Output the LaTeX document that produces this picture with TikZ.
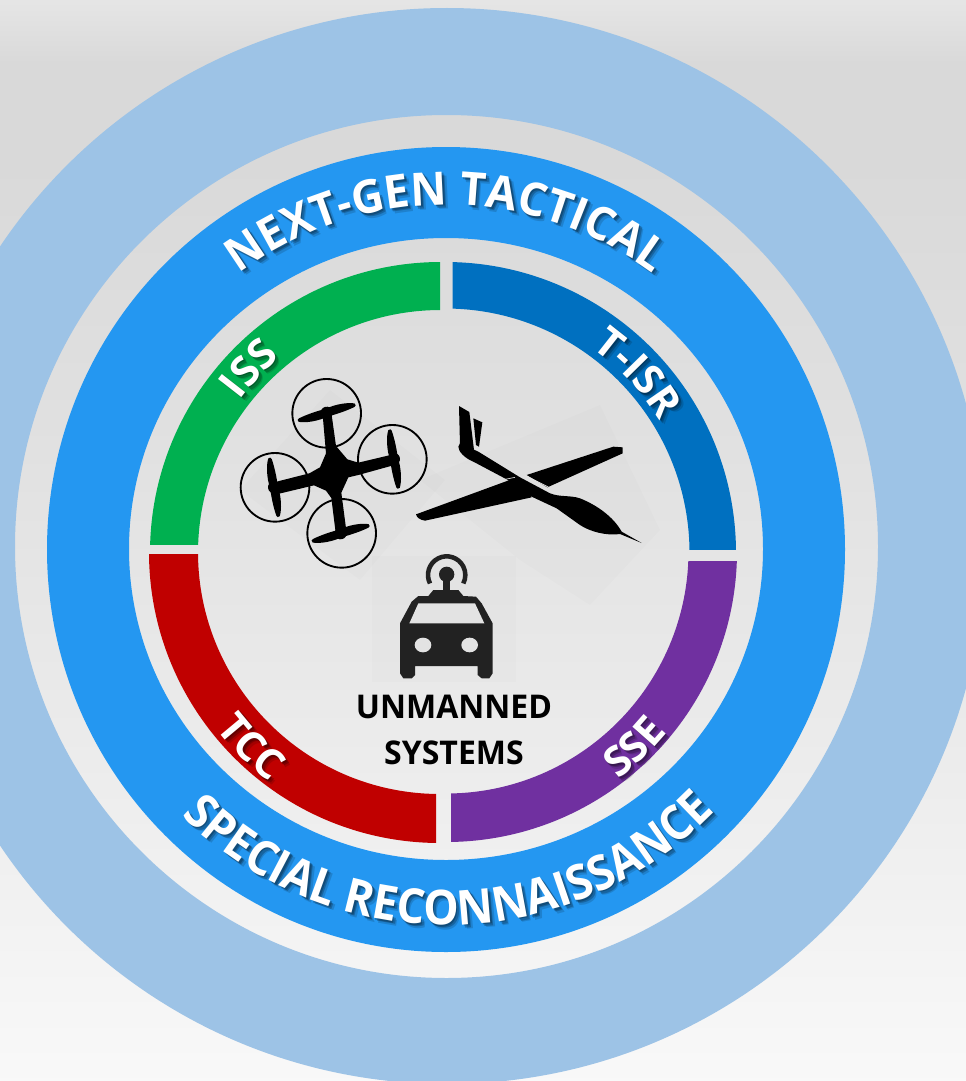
\documentclass[tikz,border=0pt]{standalone}
\usepackage{fontspec}
\setmainfont{Open Sans}
\newfontfamily\topfont[FakeStretch=.965]{Open Sans}
\newfontfamily\botfont[FakeStretch=.93]{Open Sans}
\newfontfamily\midfont[FakeStretch=.98]{Open Sans}
\usetikzlibrary{decorations.text}
\definecolor{ringlight}{HTML}{9DC3E6}
\definecolor{ringblue}{HTML}{2497F1}
\definecolor{secgreen}{HTML}{00B050}
\definecolor{secblue}{HTML}{0070C0}
\definecolor{secred}{HTML}{C00000}
\definecolor{secpurple}{HTML}{7030A0}
\definecolor{carink}{HTML}{222222}
\definecolor{bgmid}{HTML}{E3E3E3}
\pgfdeclareverticalshading{pagebg}{100bp}{
 color(0bp)=(white!97.5!black);
 color(25bp)=(white!97.5!black);
 color(40bp)=(white!92.5!black);
 color(55bp)=(white!88!black);
 color(68bp)=(white!85!black);
 color(72bp)=(white!85!black);
 color(75bp)=(white!90!black);
 color(100bp)=(white!90!black)}
\tikzset{
 blade/.style={fill=black},
 ghost/.style={fill=black,opacity=.012},
 wing/.style={fill=black},
 guard/.style={draw=black,line width=1.4pt,fill=none}
}
% cx cy r start end font-setup text
\newcommand{\arclabel}[7]{%
 \foreach \dx/\dy/\op in {4.5/4.5/.14,3/3/.22,1.5/1.5/.24}{%
  \begin{scope}[opacity=\op,shift={(\dx,-\dy)}]
  \path[decorate,decoration={text along path,text align=center,
    text={|#6\color{black}|#7}}]
    (#1,-#2)++(#4:#3) arc[start angle=#4,end angle=#5,radius=#3];
  \end{scope}}
 \path[decorate,decoration={text along path,text align=center,
    text={|#6\color{white}|#7}}]
    (#1,-#2)++(#4:#3) arc[start angle=#4,end angle=#5,radius=#3];
}
% clip rectangle x0 y0 x1 y1, centre cx cy, outer, inner, colour
\newcommand{\sector}[9]{%
 \begin{scope}
  \clip (#1,-#2) rectangle (#3,-#4);
  \fill[#9,even odd rule] (#5,-#6) circle[radius=#7] (#5,-#6) circle[radius=#8];
 \end{scope}}
\newcommand{\rotor}[3]{% zoomed px, x y angle
 \begin{scope}[shift={(#1,#2)},rotate=#3]
  \fill[blade] (0,-12) .. controls (30,-18) and (70,-14) .. (88,-5) .. controls (92,0) and (90,4) .. (85,5) .. controls (60,10) and (30,12) .. (0,12)
   .. controls (-30,18) and (-70,14) .. (-88,5) .. controls (-92,0) and (-90,-4) .. (-85,-5) .. controls (-60,-10) and (-30,-12) .. (0,-12) -- cycle;
  \fill[blade] (0,0) circle[radius=18];
 \end{scope}}
\begin{document}
\begin{tikzpicture}[x=.75pt,y=.75pt]
\useasboundingbox (0,0) rectangle (966,-1081);
\clip (0,0) rectangle (966,-1081);
\shade[shading=pagebg] (0,0) rectangle (966,-1081);
% rings
\fill[ringlight,even odd rule] (447,-546) circle[radius=538] (446.5,-546.5) circle[radius=431.5];
\fill[ringblue,even odd rule] (446,-549.5) ellipse[x radius=399,y radius=402.5] (446,-549) ellipse[x radius=317,y radius=311];
% faint image panels
\fill[ghost] (372,-556) rectangle (516,-682);
\fill[ghost] (240,-490) -- (360,-580) -- (445,-480) -- (330,-390) -- cycle;
\fill[ghost] (420,-480) -- (600,-405) -- (660,-530) -- (590,-605) -- (520,-560) -- cycle;
% sectors
\sector{100}{200}{440}{544}{441}{553}{291}{243}{secgreen}
\sector{452.5}{200}{800}{549}{445}{553}{291}{244.5}{secblue}
\sector{100}{554}{436}{900}{440}{552}{291}{242}{secred}
\sector{451}{561}{800}{900}{446}{551}{291}{242.5}{secpurple}
% ring captions
\arclabel{446}{551}{346}{150}{30}{\topfont\fontsize{34.5pt}{34.5pt}\selectfont\bfseries}{NEXT-GEN TACTICAL}
\arclabel{446}{551}{374}{200}{341}{\botfont\fontsize{36pt}{36pt}\selectfont\bfseries}{SPECIAL RECONNAISSANCE}
\arclabel{446}{552}{256}{190}{84}{\fontsize{31pt}{31pt}\selectfont\bfseries}{ISS}
\arclabel{446}{552}{251}{96}{-10}{\fontsize{31pt}{31pt}\selectfont\bfseries}{T-ISR}
\arclabel{446}{552}{290}{180}{270}{\fontsize{31pt}{31pt}\selectfont\bfseries}{TCC}
\arclabel{446}{552}{285}{268}{360}{\fontsize{31pt}{31pt}\selectfont\bfseries}{SSE}
% quadcopter
\begin{scope}[shift={(165pt,-270pt)}]
\begin{scope}[x=.25pt,y=-.25pt]
 \draw[guard] (320,160) circle[radius=103];
 \draw[guard] (517,298) circle[radius=103];
 \draw[guard] (365,520) circle[radius=103];
 \draw[guard] (165,382) circle[radius=103];
 \fill[black] (308,165) -- (335,165) -- (348,258) -- (382,298) -- (415,308)
   -- (520,283) -- (527,314) -- (415,345) -- (385,352) -- (364,398)
   -- (380,520) -- (348,526) -- (334,414) -- (318,392) -- (282,376)
   -- (165,404) -- (158,368) -- (268,340) -- (300,322) -- (318,280) -- cycle;
 \rotor{320}{158}{15}
 \rotor{522}{297}{-82}
 \rotor{362}{520}{15}
 \rotor{162}{382}{-82}
\end{scope}\end{scope}
% glider
\begin{scope}[shift={(307.5pt,-292.5pt)}]
\begin{scope}[x=.25pt,y=-.25pt]
 \fill[wing] (147,48) -- (178,66) -- (192,180) -- (150,165) -- cycle;
 \fill[wing] (190,85) -- (217,97) -- (207,170) -- (198,165) -- cycle;
 \fill[wing] (18,373) -- (310,266) -- (345,285) -- (365,322) -- (45,392) .. controls (30,390) and (20,382) .. (18,373) -- cycle;
 \fill[wing] (350,255) -- (610,170) -- (638,172) -- (638,190) -- (412,292) -- cycle;
 \fill[wing] (150,160) -- (205,185) -- (330,262) -- (420,310) .. controls (450,322) and (480,315) .. (510,325)
   .. controls (560,345) and (610,380) .. (635,425) -- (695,459) -- (630,432) .. controls (590,438) and (540,425) .. (510,405)
   -- (440,355) -- (365,320) -- (290,268) -- (190,215) .. controls (165,205) and (145,185) .. (145,170) -- cycle;
 \draw[bgmid,line width=.6pt] (345,256) -- (415,291);
 \draw[bgmid,line width=.5pt] (285,268) -- (315,262);
\end{scope}\end{scope}
% vehicle
\begin{scope}[shift={(262.5pt,-405pt)}]
\begin{scope}[x=.25pt,y=-.25pt]
 \draw[carink,line width=3.4pt] (290,105) ++(153:56) arc[start angle=153,end angle=387,radius=56];
 \fill[carink] (290,103) circle[radius=23];
 \fill[carink] (279,105) rectangle (301,155);
 \fill[carink] (150,250) -- (185,185) -- (205,168) -- (235,168) -- (250,150) -- (325,150) -- (340,168) -- (378,170) -- (395,190) -- (428,250)
   -- (428,400) -- (418,415) -- (395,415) -- (383,405) -- (383,378) -- (195,378) -- (195,405) -- (185,415) -- (160,415) -- (150,400) -- cycle;
 \fill[bgmid] (205,190) -- (375,190) -- (403,250) -- (178,250) -- cycle;
 \fill[bgmid] (219,315) ellipse[x radius=25,y radius=22];
 \fill[bgmid] (359,315) ellipse[x radius=25,y radius=22];
\end{scope}\end{scope}
\node[font=\midfont\fontsize{24.5pt}{34.5pt}\selectfont\bfseries,align=center,text=black,inner sep=0pt] (title) at (454,-730) {UNMANNED\\SYSTEMS};
\end{tikzpicture}
\end{document}
